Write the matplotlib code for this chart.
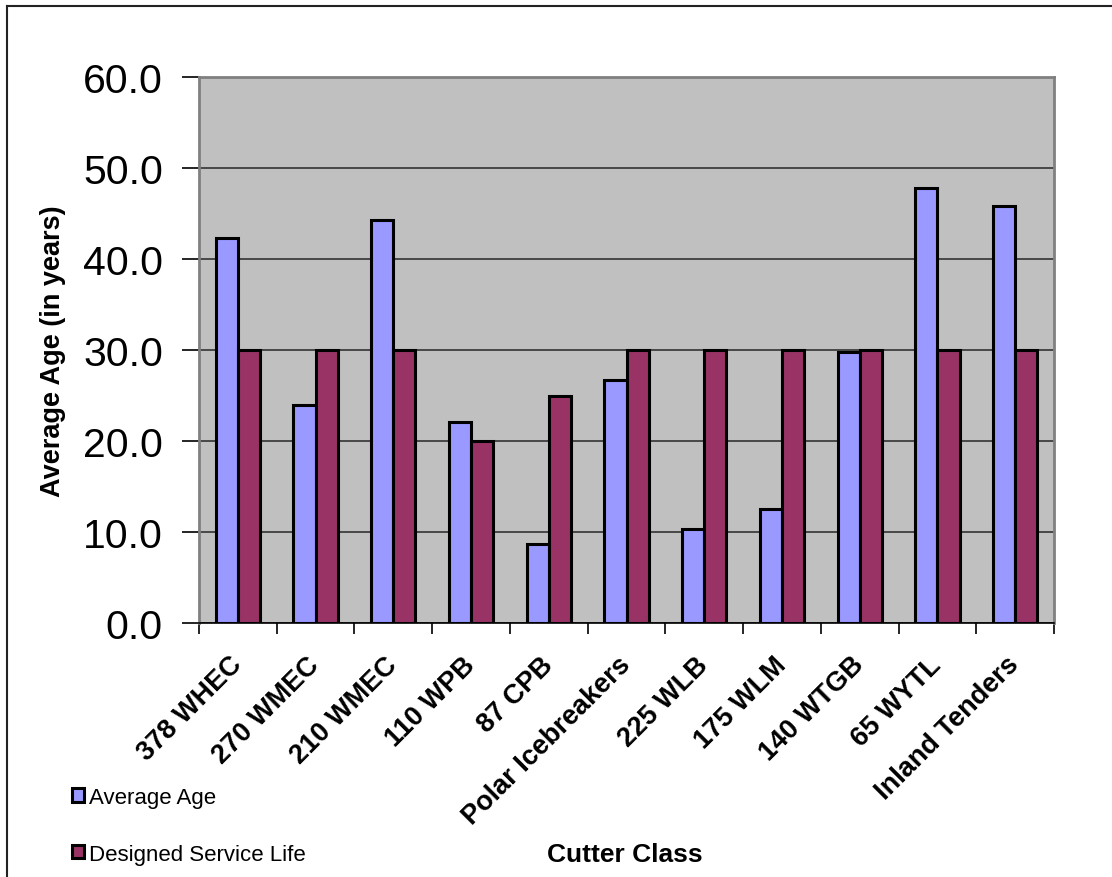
import matplotlib
matplotlib.use('Agg')
import matplotlib.pyplot as plt
import numpy as np
from matplotlib.lines import Line2D

plt.rcParams['font.family'] = ['Liberation Sans', 'DejaVu Sans']

# data
cutter_classes = ['378 WHEC', '270 WMEC', '210 WMEC', '110 WPB', '87 CPB',
                  'Polar Icebreakers', '225 WLB', '175 WLM', '140 WTGB',
                  '65 WYTL', 'Inland Tenders']
average_age = [42.3, 24.0, 44.3, 22.1, 8.7, 26.7, 10.3, 12.5, 29.8, 47.8, 45.8]
service_life = [30, 30, 30, 20, 25, 30, 30, 30, 30, 30, 30]
y_ticks = [0, 10, 20, 30, 40, 50, 60]

blue = '#9999FF'
maroon = '#993366'

fig = plt.figure(figsize=(11.12, 8.78), dpi=100)
ax = fig.add_axes([199/1112, 1 - 624/878, 855/1112, 546/878])
ax.set_facecolor('#C0C0C0')

x = np.arange(len(cutter_classes))
w = 0.285
b1 = ax.bar(x - w/2, average_age, w, color=blue, edgecolor='black', linewidth=2.2,
            label='Average Age', zorder=3)
b2 = ax.bar(x + w/2, service_life, w, color=maroon, edgecolor='black', linewidth=2.2,
            label='Designed Service Life', zorder=3)

ax.set_ylim(0, 60)
ax.set_xlim(-0.5, len(cutter_classes) - 0.5)
ax.set_yticks(y_ticks)
ax.set_yticklabels(['%.1f' % v for v in y_ticks], fontsize=29.5)
ax.yaxis.grid(True, color='#333333', linewidth=1.2, zorder=1)

# ticks on category boundaries, labels on centers
ax.set_xticks(np.arange(len(cutter_classes) + 1) - 0.5)
ax.set_xticklabels([])
ax.set_xticks(x, minor=True)
ax.set_xticklabels(cutter_classes, minor=True, rotation=45, ha='right',
                   rotation_mode='anchor', fontsize=19.5, fontweight='bold')
ax.tick_params(axis='x', which='major', direction='out', length=8, width=1.2)
ax.tick_params(axis='x', which='minor', length=0, pad=27)
ax.tick_params(axis='y', direction='out', length=12, width=1.2, pad=14)
for lab in ax.get_xticklabels(minor=True):
    lab.set_va('center')

for s in ['top', 'right', 'left']:
    ax.spines[s].set_color('#808080')
    ax.spines[s].set_linewidth(2)
ax.spines['bottom'].set_color('black')
ax.spines['bottom'].set_linewidth(1.2)

ax.set_ylabel('Average Age (in years)', fontsize=19.5, fontweight='bold', labelpad=12)
fig.text(625/1112, 1 - 855/878, 'Cutter Class', fontsize=19, fontweight='bold',
         ha='center', va='center')

leg = fig.legend(handles=[b1, b2], loc='upper left',
                 bbox_to_anchor=(52/1112, 1 - 768/878), frameon=False,
                 fontsize=16, handlelength=0.55, handleheight=0.55,
                 handletextpad=0.2, labelspacing=1.6)

# outer chart frame
fig.add_artist(Line2D([7/1112, 1], [1 - 7/878, 1 - 7/878], color='#222222', lw=1.5))
fig.add_artist(Line2D([7/1112, 7/1112], [0, 1 - 7/878], color='#222222', lw=1.5))

fig.savefig('out.png', dpi=100)
